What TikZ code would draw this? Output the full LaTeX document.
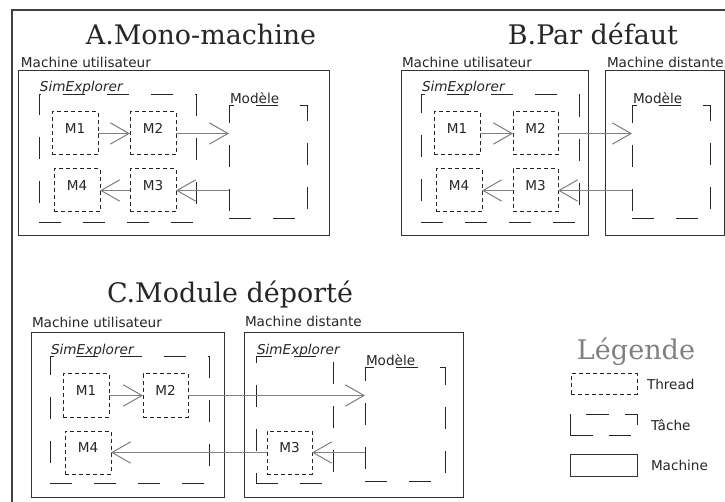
\documentclass[tikz,border=0pt]{standalone}
\usepackage{fontspec}
\setmainfont{DejaVu Sans}
\newfontfamily\titlefont{DejaVu Serif}
\usetikzlibrary{arrows.meta,fit}
\begin{document}
\begin{tikzpicture}[x=0.75pt,y=-0.75pt,
  every node/.style={font=\fontsize{10.2pt}{12pt}\selectfont, inner sep=0pt, outer sep=0pt, text=black!85},
  machinebox/.style={draw=black!80, line width=0.75pt},
  taskbox/.style={draw=black!85, line width=0.75pt, dash pattern=on 16.5pt off 16.5pt},
  threadbox/.style={draw=black!85, line width=0.75pt, dash pattern=on 3pt off 2.25pt},
  flow/.style={draw=black!50, line width=0.75pt, -{Straight Barb[length=14pt,width=16pt]}},
  titletext/.style={font=\titlefont\fontsize{20.2pt}{24pt}\selectfont, anchor=base},
  lbl/.style={anchor=base west},
  tasklbl/.style={anchor=base west, font=\fontsize{10.2pt}{12pt}\selectfont\itshape},
  legtext/.style={anchor=west},
]
\useasboundingbox (0,0) rectangle (725,502);
\clip (0,0) rectangle (725,502);
\draw[line width=1.5pt, draw=black!75] (11.5,10.5) rectangle (780,560);

% ---------- A ----------
\node[titletext] (ta) at (201,45) {A.Mono-machine};
\node[machinebox, fit={(18,71) (329,236)}] (ma) {};
\node[lbl] (lma) at (21,68) {Machine utilisateur};
\node[taskbox, fit={(39,95) (196,223)}] (sa) {};
\node[tasklbl] (lsa) at (40,92) {SimExplorer};
\node[threadbox, fit={(52,112) (98,155)}] (a1) {M1};
\node[threadbox, fit={(130,112) (176,155)}] (a2) {M2};
\node[threadbox, fit={(54,169) (100,212)}] (a4) {M4};
\node[threadbox, fit={(130,169) (176,212)}] (a3) {M3};
\node[taskbox, fit={(229,106) (307,219)}] (moda) {};
\node[lbl] (lmoda) at (230,104) {Modèle};
\draw[flow] (a1.east) -- (a2.west);
\draw[flow] (a2.east) -- (a2.east -| moda.west);
\draw[flow] (a3.east -| moda.west) -- (a3.east);
\draw[flow] (a3.west) -- (a4.east);

% ---------- B ----------
\node[titletext] (tb) at (593,45) {B.Par défaut};
\node[machinebox, fit={(401,71) (588,236)}] (mbu) {};
\node[lbl] (lmbu) at (402,68) {Machine utilisateur};
\node[machinebox, fit={(605,71) (724,236)}] (mbd) {};
\node[lbl] (lmbd) at (607,68) {Machine distante};
\node[taskbox, fit={(421,95) (579,223)}] (sb) {};
\node[tasklbl] (lsb) at (422,92) {SimExplorer};
\node[threadbox, fit={(434,112) (480,155)}] (b1) {M1};
\node[threadbox, fit={(513,112) (558,155)}] (b2) {M2};
\node[threadbox, fit={(436,169) (482,212)}] (b4) {M4};
\node[threadbox, fit={(513,169) (558,212)}] (b3) {M3};
\node[taskbox, fit={(632,106) (710,219)}] (modb) {};
\node[lbl] (lmodb) at (633,104) {Modèle};
\draw[flow] (b1.east) -- (b2.west);
\draw[flow] (b2.east) -- (b2.east -| modb.west);
\draw[flow] (b3.east -| modb.west) -- (b3.east);
\draw[flow] (b3.west) -- (b4.east);

% ---------- C ----------
\node[titletext] (tc) at (230,303) {C.Module déporté};
\node[machinebox, fit={(31,333) (224,497)}] (mcu) {};
\node[lbl] (lmcu) at (32,328) {Machine utilisateur};
\node[machinebox, fit={(244,333) (463,497)}] (mcd) {};
\node[lbl] (lmcd) at (245,327) {Machine distante};
\node[taskbox, fit={(50,357) (209,483)}] (scu) {};
\node[tasklbl] (lscu) at (51,354) {SimExplorer};
\node[threadbox, fit={(63,374) (109,417)}] (c1) {M1};
\node[threadbox, fit={(143,374) (188,417)}] (c2) {M2};
\node[threadbox, fit={(65,431) (111,474)}] (c4) {M4};
\node[taskbox, fit={(256,357) (333,483)}] (scd) {};
\node[tasklbl] (lscd) at (257,354) {SimExplorer};
\node[threadbox, fit={(267,431) (312,474)}] (c3) {M3};
\node[taskbox, fit={(365,368) (445,481)}] (modc) {};
\node[lbl] (lmodc) at (366,366) {Modèle};
\draw[flow] (c1.east) -- (c2.west);
\draw[flow] (c2.east) -- (c2.east -| modc.west);
\draw[flow] (c3.east -| modc.west) -- (c3.east);
\draw[flow] (c3.west) -- (c4.east);

% ---------- Legend ----------
\node[titletext, text=black!50, font=\titlefont\fontsize{20.3pt}{24pt}\selectfont] (tl) at (636,359) {Légende};
\node[threadbox, fit={(571,374) (637,394)}] (lg1) {};
\node[legtext] (lg1t) at (647,384) {Thread};
\node[taskbox, dash pattern=on 17pt off 12pt, fit={(570,414) (637,435)}] (lg2) {};
\node[legtext] (lg2t) at (651,425) {Tâche};
\node[machinebox, fit={(570,454) (637,476)}] (lg3) {};
\node[legtext] (lg3t) at (651,465) {Machine};
\end{tikzpicture}
\end{document}
